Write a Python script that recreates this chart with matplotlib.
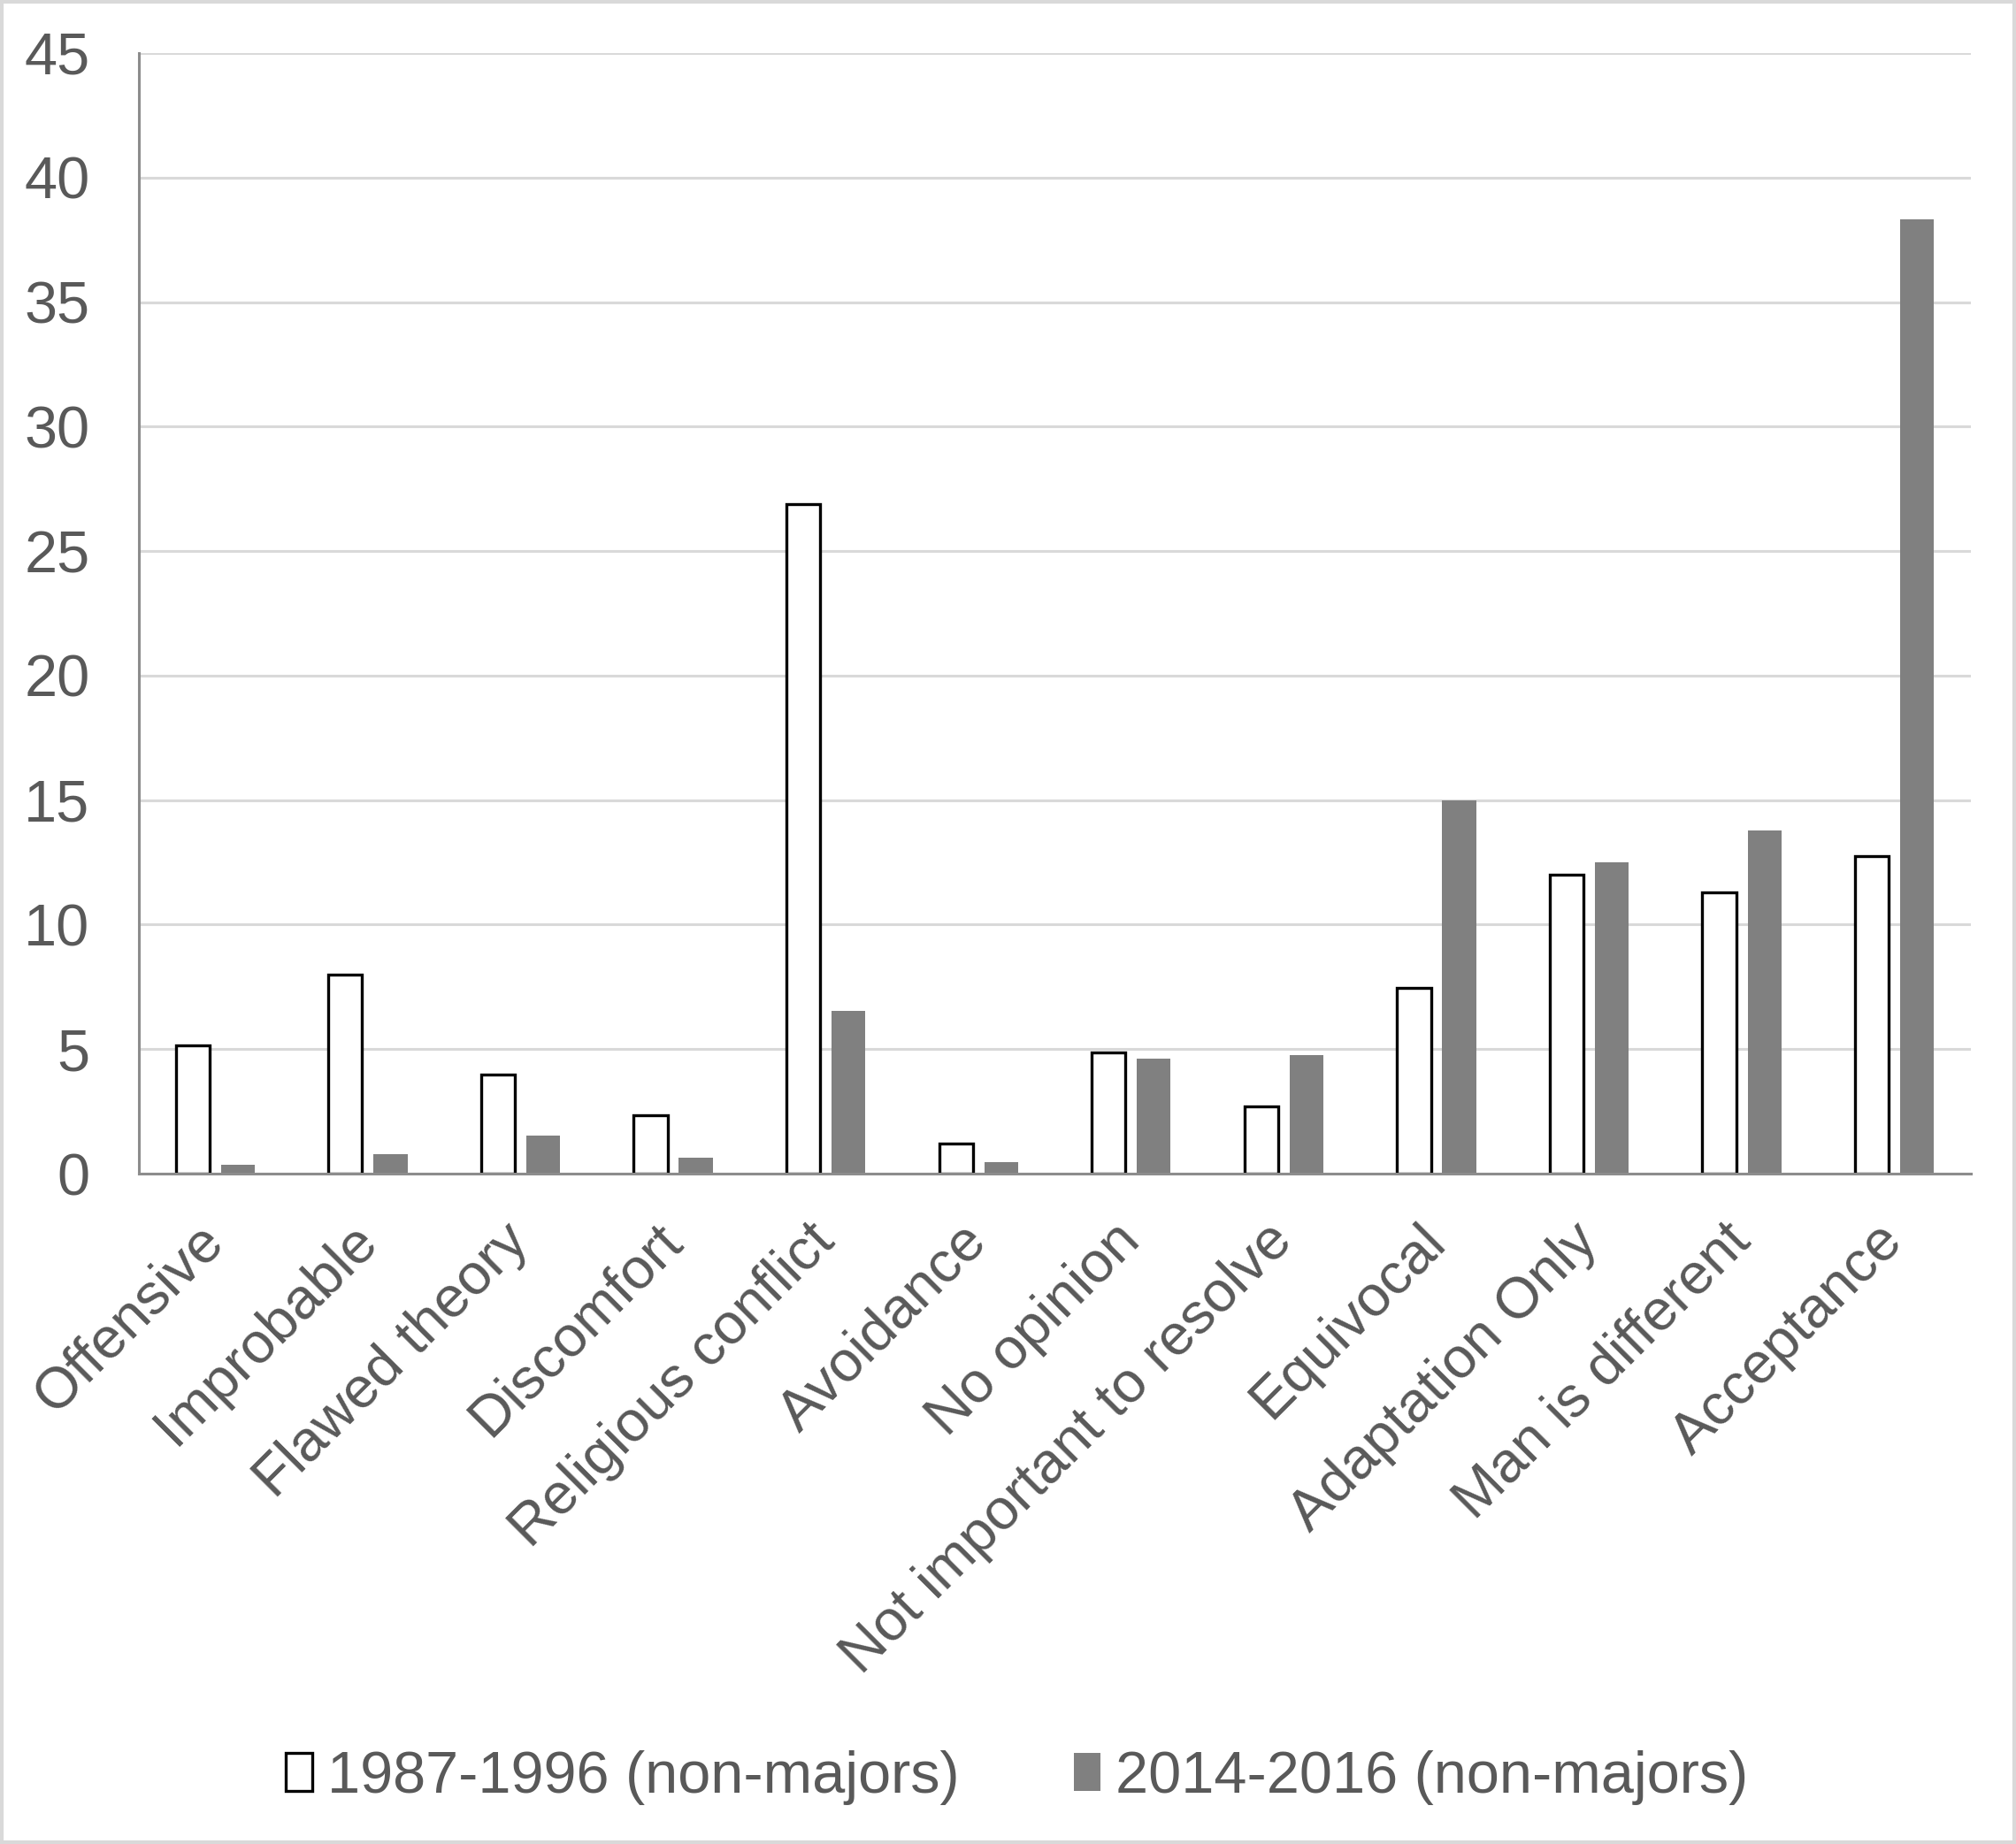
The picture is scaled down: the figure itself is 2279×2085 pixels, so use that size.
import matplotlib
matplotlib.use("Agg")
import matplotlib.pyplot as plt
import numpy as np
from matplotlib.patches import Rectangle

plt.rcParams['font.family'] = ['Liberation Sans', 'DejaVu Sans']

categories = ["Offensive", "Improbable", "Flawed theory", "Discomfort", "Religious conflict",
              "Avoidance", "No opinion", "Not important to resolve", "Equivocal",
              "Adaptation Only", "Man is different", "Acceptance"]
series_1987 = [5.15, 7.98, 3.99, 2.36, 26.9, 1.19, 4.87, 2.69, 7.46, 11.99, 11.29, 12.75]
series_2014 = [0.35, 0.79, 1.52, 0.64, 6.52, 0.47, 4.60, 4.76, 14.99, 12.49, 13.79, 38.32]
label_1987 = "1987-1996 (non-majors)"
label_2014 = "2014-2016 (non-majors)"
yticks = [0, 5, 10, 15, 20, 25, 30, 35, 40, 45]

W, H = 2279, 2085
FS = 48
fig = plt.figure(figsize=(W / 100, H / 100), dpi=100)
ax = fig.add_axes([157 / W, 1 - 1327 / H, (2228 - 157) / W, (1327 - 60) / H])

x = np.arange(len(categories))
bw = 0.222
off = 0.148
ax.bar(x - off, series_1987, bw, color="white", edgecolor="black", linewidth=2.4,
       label=label_1987, zorder=3)
ax.bar(x + off, series_2014, bw, color="#808080", edgecolor="none",
       label=label_2014, zorder=3)

ax.set_xlim(-0.5, len(categories) - 0.5)
ax.set_ylim(0, 45)
ax.set_yticks(yticks)
ax.yaxis.grid(True, color="#d9d9d9", linewidth=2.2, zorder=0)
ax.set_axisbelow(True)
for s in ["top", "right"]:
    ax.spines[s].set_visible(False)
for s in ["left", "bottom"]:
    ax.spines[s].set_color("#8c8c8c")
    ax.spines[s].set_linewidth(2.2)
    ax.spines[s].set_zorder(4)

ax.tick_params(axis="y", length=0, pad=40, labelsize=FS, labelcolor="#595959")
ax.tick_params(axis="x", length=0, pad=48, labelsize=47, labelcolor="#595959")
ax.set_xticks(x)
ax.set_xticklabels(categories, rotation=45, ha="right", rotation_mode="anchor", va="center")

leg = fig.legend(loc="center", bbox_to_anchor=(0.5045, 1 - 2010 / H), ncol=2, frameon=False,
                 fontsize=FS, labelcolor="#595959", handlelength=0.45, handleheight=0.6,
                 handletextpad=0.25, columnspacing=1.95)

fig.patches.append(Rectangle((0.0008, 0.0008), 0.9984, 0.9984, transform=fig.transFigure,
                             fill=False, edgecolor="#d9d9d9", linewidth=3))

fig.savefig("out.png", dpi=100, facecolor="white")
